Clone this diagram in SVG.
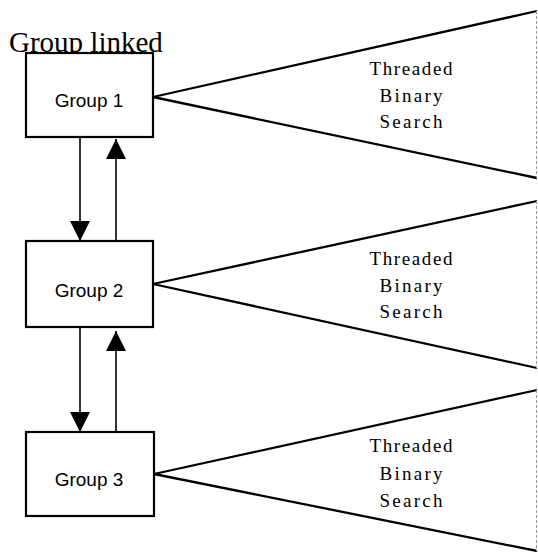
<svg xmlns="http://www.w3.org/2000/svg" width="538" height="552" viewBox="0 0 538 552">
<style>
.box{fill:#fff;stroke:#000;stroke-width:2.2}
.lbl{font-family:"Liberation Sans",Arial,sans-serif;font-size:19px;fill:#000;text-anchor:middle}
.tri{fill:none;stroke:#000;stroke-width:2.3;stroke-linejoin:miter}
.edge{stroke:#9a9a9a;stroke-width:1;stroke-dasharray:3 2}
.tbs{font-family:"Liberation Serif","Times New Roman",serif;font-size:19px;fill:#000;text-anchor:middle}
.conn{stroke:#000;stroke-width:1.6;fill:none;marker-end:url(#ah)}
</style>
<defs>
<marker id="ah" markerUnits="userSpaceOnUse" markerWidth="22" markerHeight="22" refX="20" refY="11" orient="auto">
<path d="M0,1 L20,11 L0,21 z" fill="#000"/>
</marker>
</defs>
<rect width="538" height="552" fill="#fff"/>
<text x="9" y="52" font-family="'Liberation Serif','Times New Roman',serif" font-size="29" fill="#000">Group linked</text>
<g id="connectors">
<line class="conn" x1="80" y1="137" x2="80" y2="241"/>
<line class="conn" x1="116" y1="241" x2="116" y2="139"/>
<line class="conn" x1="80" y1="327" x2="80" y2="432"/>
<line class="conn" x1="116" y1="432" x2="116" y2="331"/>
</g>
<g id="search1">
<polyline class="tri" points="537,11 153,97 537,178"/>
<line class="edge" x1="536.5" y1="11" x2="536.5" y2="178"/>
<text class="tbs" x="411" y="75" textLength="83" lengthAdjust="spacing">Threaded</text>
<text class="tbs" x="411" y="102" textLength="63" lengthAdjust="spacing">Binary</text>
<text class="tbs" x="411" y="128" textLength="63" lengthAdjust="spacing">Search</text>
</g>
<g id="search2">
<polyline class="tri" points="537,201 153,284 537,368"/>
<line class="edge" x1="536.5" y1="201" x2="536.5" y2="368"/>
<text class="tbs" x="411" y="265" textLength="83" lengthAdjust="spacing">Threaded</text>
<text class="tbs" x="411" y="292" textLength="63" lengthAdjust="spacing">Binary</text>
<text class="tbs" x="411" y="318" textLength="63" lengthAdjust="spacing">Search</text>
</g>
<g id="search3">
<polyline class="tri" points="537,390 154,474 537,551"/>
<line class="edge" x1="536.5" y1="390" x2="536.5" y2="551"/>
<text class="tbs" x="411" y="452" textLength="83" lengthAdjust="spacing">Threaded</text>
<text class="tbs" x="411" y="480" textLength="63" lengthAdjust="spacing">Binary</text>
<text class="tbs" x="411" y="507" textLength="63" lengthAdjust="spacing">Search</text>
</g>
<g id="group1">
<rect class="box" x="26" y="53" width="127" height="84"/>
<text class="lbl" x="89" y="107">Group 1</text>
</g>
<g id="group2">
<rect class="box" x="26" y="241" width="127" height="86"/>
<text class="lbl" x="89" y="297">Group 2</text>
</g>
<g id="group3">
<rect class="box" x="26" y="432" width="128" height="84"/>
<text class="lbl" x="89" y="486">Group 3</text>
</g>
</svg>
